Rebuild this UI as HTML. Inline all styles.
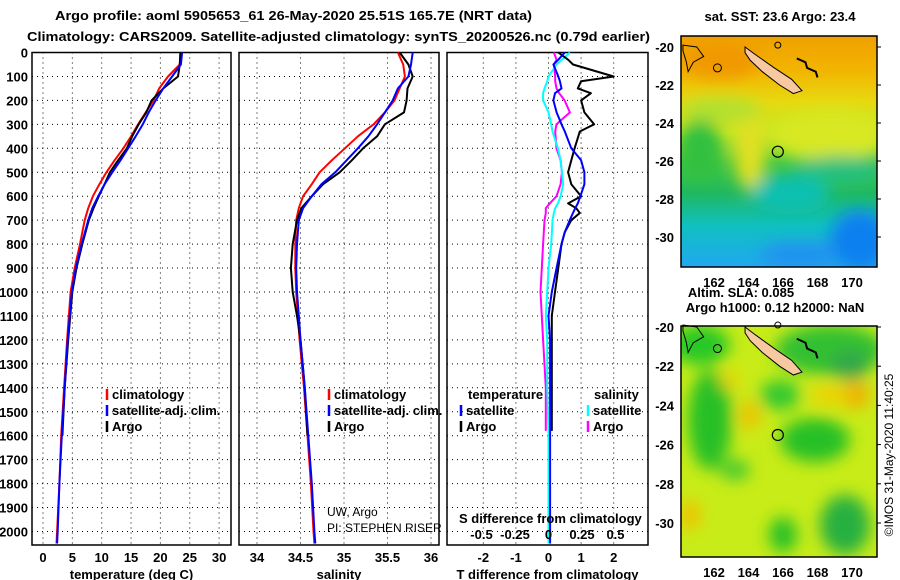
<!DOCTYPE html>
<html><head><meta charset="utf-8"><style>
html,body{margin:0;padding:0;background:#fff;}
svg{display:block;font-family:"Liberation Sans",sans-serif;}
.t{font-weight:bold;font-size:13px;fill:#000;}
.grid{stroke:#000;stroke-width:1;stroke-dasharray:1,4;fill:none;}
</style></head><body>
<svg id="chart" width="900" height="580" viewBox="0 0 900 580" xmlns="http://www.w3.org/2000/svg">
<defs>
<filter id="blur8" x="-50%" y="-50%" width="200%" height="200%"><feGaussianBlur stdDeviation="8"/></filter>
<clipPath id="clipTop"><rect x="681" y="36" width="196" height="231"/></clipPath>
<clipPath id="clipBot"><rect x="681" y="326" width="196" height="231"/></clipPath>
<linearGradient id="sstGrad" x1="0" y1="0" x2="0" y2="1">
<stop offset="0" stop-color="#f0a000"/><stop offset="0.15" stop-color="#f2b400"/>
<stop offset="0.28" stop-color="#e8d810"/><stop offset="0.42" stop-color="#c0e820"/>
<stop offset="0.55" stop-color="#40c840"/><stop offset="0.68" stop-color="#20b860"/>
<stop offset="0.82" stop-color="#10c0c0"/><stop offset="1" stop-color="#20a8f0"/>
</linearGradient>
</defs>
<g id="titles">
<text class="t" x="55" y="20" font-size="14" textLength="477" lengthAdjust="spacingAndGlyphs">Argo profile: aoml 5905653_61 26-May-2020 25.51S 165.7E (NRT data)</text>
<text class="t" x="27" y="41" font-size="14" textLength="623" lengthAdjust="spacingAndGlyphs">Climatology: CARS2009. Satellite-adjusted climatology: synTS_20200526.nc (0.79d earlier)</text>
</g>
<g id="panels"></g>
<g id="maps">
<text class="t" x="780" y="21" text-anchor="middle" textLength="151" lengthAdjust="spacingAndGlyphs">sat. SST: 23.6 Argo: 23.4</text>
<g clip-path="url(#clipTop)">
<rect x="681" y="36" width="196" height="231" fill="url(#sstGrad)"/>
<g filter="url(#blur8)">
<ellipse cx="830" cy="135" rx="60" ry="25" fill="#d8e820"/>
<ellipse cx="750" cy="150" rx="16" ry="40" fill="#e0e020"/>
<ellipse cx="720" cy="110" rx="40" ry="12" fill="#b0e030"/>
<ellipse cx="700" cy="150" rx="22" ry="30" fill="#30c040"/>
<ellipse cx="840" cy="170" rx="45" ry="14" fill="#20c080"/>
<ellipse cx="790" cy="195" rx="40" ry="20" fill="#10c0b0"/>
<ellipse cx="860" cy="240" rx="30" ry="30" fill="#1080f0"/>
<ellipse cx="800" cy="255" rx="40" ry="12" fill="#2090f0"/>
<ellipse cx="720" cy="60" rx="40" ry="18" fill="#f09800"/>
</g>
</g>
<rect x="681" y="36" width="196" height="231" fill="none" stroke="#000" stroke-width="1.5"/>
<text class="t" x="741" y="297" text-anchor="middle">Altim. SLA: 0.085</text>
<text class="t" x="775" y="312" text-anchor="middle">Argo h1000: 0.12 h2000: NaN</text>
<g clip-path="url(#clipBot)">
<rect x="681" y="326" width="196" height="231" fill="#c8ec18"/>
<g filter="url(#blur8)">
<ellipse cx="700" cy="345" rx="30" ry="20" fill="#28c828"/>
<ellipse cx="830" cy="350" rx="55" ry="25" fill="#30c030"/>
<ellipse cx="850" cy="365" rx="20" ry="15" fill="#30a848"/>
<ellipse cx="710" cy="420" rx="22" ry="50" fill="#28c028"/>
<ellipse cx="780" cy="395" rx="20" ry="15" fill="#30c830"/>
<ellipse cx="815" cy="440" rx="35" ry="22" fill="#28c028"/>
<ellipse cx="845" cy="525" rx="25" ry="30" fill="#28b040"/>
<ellipse cx="783" cy="535" rx="14" ry="18" fill="#28c028"/>
<ellipse cx="735" cy="470" rx="15" ry="10" fill="#40c830"/>
<ellipse cx="855" cy="395" rx="15" ry="14" fill="#f0b000"/>
<ellipse cx="750" cy="415" rx="10" ry="15" fill="#f0c000"/>
<ellipse cx="730" cy="380" rx="10" ry="8" fill="#f0d000"/>
<ellipse cx="690" cy="515" rx="10" ry="15" fill="#f0c000"/>
<ellipse cx="830" cy="395" rx="20" ry="10" fill="#f0d000"/>
</g>
</g>
<rect x="681" y="326" width="196" height="231" fill="none" stroke="#000" stroke-width="1.5"/>
<text x="893" y="455" font-size="12" text-anchor="middle" transform="rotate(-90 893 455)">©IMOS 31-May-2020 11:40:25</text>
</g>
</svg>
<script>
// ---- data (depths in m) ----
const tDepths = [0,50,100,150,200,250,300,350,400,450,500,550,600,650,700,800,900,1000,1200,1400,1600,1800,2000,2050];
const tArgo   = [23.4,23.3,23.0,20.5,18.5,17.6,16.3,15.2,14.3,12.8,11.4,10.5,9.5,8.6,7.8,6.7,5.7,5.0,4.3,3.7,3.3];
const tSat    = [23.7,23.5,22.0,20.5,19.2,18.0,17.0,15.8,14.5,13.2,11.8,10.5,9.4,8.4,7.7,6.6,5.6,4.9,4.2,3.7,3.2,2.8,2.5,2.4];
const tClim   = [23.4,23.3,21.3,19.8,18.8,17.5,16.2,15.0,13.7,12.2,10.8,9.6,8.5,7.7,7.1,6.3,5.4,4.7,4.1,3.6,3.1,2.8,2.4,2.3];
const sDepths = [0,50,100,150,200,250,300,350,400,450,500,550,600,650,700,800,900,1000,1100,1200,1400,1600,1800,2000,2050];
const sArgo   = [35.64,35.74,35.79,35.73,35.72,35.69,35.47,35.38,35.22,35.09,34.95,34.76,34.63,34.51,34.46,34.41,34.39,34.41,34.46,34.50,34.55,34.58];
const sSat    = [35.79,35.77,35.74,35.62,35.56,35.47,35.38,35.28,35.16,35.03,34.90,34.74,34.63,34.53,34.48,34.46,34.45,34.46,34.48,34.50,34.55,34.59,34.63,34.66,34.67];
const sClim   = [35.62,35.68,35.70,35.64,35.58,35.47,35.34,35.16,35.01,34.86,34.72,34.63,34.53,34.48,34.45,34.44,34.44,34.45,34.47,34.49,34.54,34.58,34.62,34.65,34.66];
const dDepths = [0,30,50,100,120,150,170,200,250,300,330,400,450,500,550,600,630,650,670,700,750,800,900,1000,1100,1200,1400,1580,1800,2000,2050];
const dTArgo  = [0.3,0.6,0.75,2.0,1.0,0.9,1.3,1.0,1.1,1.4,0.96,0.8,0.7,0.6,0.7,1.0,0.6,0.85,0.96,0.7,0.5,0.4,0.3,0.2,0.1,0.1,0.1,0.1];
const dTSat   = [0.5,0.3,0.15,0.3,0.35,0.4,0.2,0.15,0.25,0.4,0.5,0.7,1.0,1.1,1.1,0.98,0.9,0.82,0.75,0.65,0.5,0.4,0.25,0.1,0.0,0.05,0.05,0.05,0.05,0.05,0.05];
const dSSat   = [0.16,0.1,0.06,0.0,-0.01,-0.03,-0.04,-0.04,0.0,0.02,0.03,0.07,0.09,0.1,0.11,0.09,0.07,0.05,0.04,0.03,0.025,0.02,0.0,-0.01,-0.02,-0.01,-0.01,0.0,0.0,0.0,0.0];
const dSArgo  = [0.04,0.06,0.04,0.05,0.05,0.06,0.08,0.12,0.16,0.06,0.05,0.06,0.09,0.1,0.09,0.06,0.01,-0.02,-0.02,-0.03,-0.035,-0.04,-0.05,-0.06,-0.05,-0.04,-0.02,-0.02];
const depthTicks = [0,100,200,300,400,500,600,700,800,900,1000,1100,1200,1300,1400,1500,1600,1700,1800,1900,2000];
const tTicks = [0,5,10,15,20,25,30];
const sTicks = [34,34.5,35,35.5,36];
const sTickLabels = ["34","34.5","35","35.5","36"];
const dTTicks = [-2,-1,0,1,2];
const dSTicks = [-0.5,-0.25,0,0.25,0.5];
const dSTickLabels = ["-0.5","-0.25","0","0.25","0.5"];

const NS = "http://www.w3.org/2000/svg";
const root = document.getElementById('panels');
const TOP = 52.5, BOT = 545, DSCALE = 0.2395;
const yD = d => TOP + d * DSCALE;
function mk(tag, attrs, parent) {
  const e = document.createElementNS(NS, tag);
  for (const k in attrs) e.setAttribute(k, attrs[k]);
  (parent || root).appendChild(e);
  return e;
}
const xT = v => 43 + v * 5.87;
const xS = v => 257 + (v - 34) * 87;
const xDT = v => 548.5 + v * 32.6;
const xDS = v => 548.5 + v * 134;

function panel(name, x0, x1, xs, ticks, labels, title) {
  const g = mk('g', {});
  
  
  depthTicks.forEach(d => { if (d > 0) mk('line', {x1: x0, x2: x1, y1: yD(d), y2: yD(d), class: 'grid'}, g); });
  ticks.forEach((t, i) => {
    const x = xs(t);
    mk('line', {x1: x, x2: x, y1: TOP, y2: BOT, class: 'grid'}, g);
    if (labels) {
      const tx = mk('text', {x: x, y: 562, 'text-anchor': 'middle', class: 't'}, g);
      
      
      tx.textContent = labels[i];
    }
  });
  const r = mk('rect', {x: x0, y: TOP, width: x1 - x0, height: BOT - TOP, fill: 'none', stroke: '#000', 'stroke-width': 1.5}, g);
  
  
  const tt = mk('text', {x: (x0 + x1) / 2, y: 579, 'text-anchor': 'middle', class: 't'}, g);
  
  
  tt.textContent = title;
  return g;
}
function series(g, name, depths, vals, xs, color, w) {
  const pts = vals.map((v, i) => xs(v).toFixed(1) + ',' + yD(depths[i]).toFixed(1)).join(' ');
  const p = mk('polyline', {points: pts, fill: 'none', stroke: color, 'stroke-width': w || 2, 'stroke-linejoin': 'round'}, g);
  
  
}
function legend(g, x, y, color, label) {
  const m = mk('line', {x1: x, x2: x, y1: y - 10, y2: y + 1, stroke: color, 'stroke-width': 2.5}, g);
  
  
  const t = mk('text', {x: x + 5, y: y, class: 't'}, g);
  
  
  t.textContent = label;
}

depthTicks.forEach(d => {
  const t = mk('text', {x: 28, y: yD(d) + 5, 'text-anchor': 'end', class: 't'});
  
  
  t.textContent = d;
});

const g1 = panel('temperature-panel', 32, 231, xT, tTicks, tTicks.map(String), 'temperature (deg C)');
series(g1, 'temp-climatology-line', tDepths, tClim, xT, '#f00');
series(g1, 'temp-argo-line', tDepths, tArgo, xT, '#000');
series(g1, 'temp-satellite-line', tDepths, tSat, xT, '#00f');
legend(g1, 107, 399, '#f00', 'climatology');
legend(g1, 107, 415, '#00f', 'satellite-adj. clim.');
legend(g1, 107, 431, '#000', 'Argo');

const g2 = panel('salinity-panel', 239, 439, xS, sTicks, sTickLabels, 'salinity');
series(g2, 'sal-climatology-line', sDepths, sClim, xS, '#f00');
series(g2, 'sal-argo-line', sDepths, sArgo, xS, '#000');
series(g2, 'sal-satellite-line', sDepths, sSat, xS, '#00f');
legend(g2, 329, 399, '#f00', 'climatology');
legend(g2, 329, 415, '#00f', 'satellite-adj. clim.');
legend(g2, 329, 431, '#000', 'Argo');
const pi1 = mk('text', {x: 327, y: 516, 'font-size': 12}, g2);


pi1.textContent = 'UW, Argo';
const pi2 = mk('text', {x: 327, y: 532, 'font-size': 12}, g2);


pi2.textContent = 'PI: STEPHEN RISER';

const g3 = panel('difference-panel', 447, 648, xDT, dTTicks, dTTicks.map(String), 'T difference from climatology');
series(g3, 'sal-argo-diff-line', dDepths, dSArgo, xDS, '#f0f');
series(g3, 'sal-sat-diff-line', dDepths, dSSat, xDS, '#0ff');
series(g3, 'temp-argo-diff-line', dDepths, dTArgo, xDT, '#000');
series(g3, 'temp-sat-diff-line', dDepths, dTSat, xDT, '#00f');
const lt = mk('text', {x: 468, y: 399, class: 't'}, g3);


lt.textContent = 'temperature';
const ls = mk('text', {x: 594, y: 399, class: 't'}, g3);


ls.textContent = 'salinity';
legend(g3, 461, 415, '#00f', 'satellite');
legend(g3, 461, 431, '#000', 'Argo');
legend(g3, 588, 415, '#0ff', 'satellite');
legend(g3, 588, 431, '#f0f', 'Argo');
const st = mk('text', {x: 459, y: 523, class: 't'}, g3);


st.textContent = 'S difference from climatology';
dSTicks.forEach((v, i) => {
  const t = mk('text', {x: xDS(v), y: 539, 'text-anchor': 'middle', class: 't'}, g3);
  
  
  t.textContent = dSTickLabels[i];
});

const maps = document.getElementById('maps');
const lonTicks = [162,164,166,168,170];
const latTicks = [-20,-22,-24,-26,-28,-30];
function mapDecor(top, latScale, labelY, name) {
  const lx = lon => 714 + (lon - 162) * 17.25;
  const ly = lat => top + (-20 - lat) * latScale;
  latTicks.forEach(l => {
    const t = mk('text', {x: 674, y: ly(l) + 5, 'text-anchor': 'end', class: 't'}, maps);
    
    
    t.textContent = l;
    mk('line', {x1: 877, x2: 881, y1: ly(l), y2: ly(l), stroke: '#000'}, maps);
  });
  lonTicks.forEach(l => {
    const t = mk('text', {x: lx(l), y: labelY, 'text-anchor': 'middle', class: 't'}, maps);
    
    
    t.textContent = l;
  });
  const isl = [[163.8,-20.0],[164.4,-20.4],[165.5,-21.1],[166.5,-21.7],[167.1,-22.3],[166.6,-22.45],[165.8,-22.0],[164.8,-21.3],[164.1,-20.7],[163.8,-20.3]];
  const p = mk('polygon', {points: isl.map(q => lx(q[0]) + ',' + ly(q[1])).join(' '), fill: '#f8c8a0', stroke: '#000', 'stroke-width': 1}, maps);
  
  
  const reef = [[160.2,-19.9],[161.0,-20.0],[161.4,-20.5],[160.8,-20.8],[160.5,-21.3],[160.4,-20.8],[160.2,-20.2]];
  mk('polygon', {points: reef.map(q => lx(q[0]) + ',' + ly(q[1])).join(' '), fill: 'none', stroke: '#000', 'stroke-width': 1}, maps);
  mk('circle', {cx: lx(162.2), cy: ly(-21.1), r: 4, fill: 'none', stroke: '#000'}, maps);
  mk('circle', {cx: lx(165.7), cy: ly(-19.9), r: 3, fill: 'none', stroke: '#000'}, maps);
  mk('polyline', {points: [[166.8,-20.6],[167.3,-20.8],[167.4,-21.1],[167.9,-21.3],[168.0,-21.6]].map(q => lx(q[0]) + ',' + ly(q[1])).join(' '), fill: 'none', stroke: '#000', 'stroke-width': 2}, maps);
  const c = mk('circle', {cx: lx(165.7), cy: ly(-25.51), r: 5.5, fill: 'none', stroke: '#000', 'stroke-width': 1.2}, maps);
  
  
}
mapDecor(47, 19, 287, 'sst-map');
mapDecor(327, 19.6, 577, 'sla-map');
</script>
</body></html>
